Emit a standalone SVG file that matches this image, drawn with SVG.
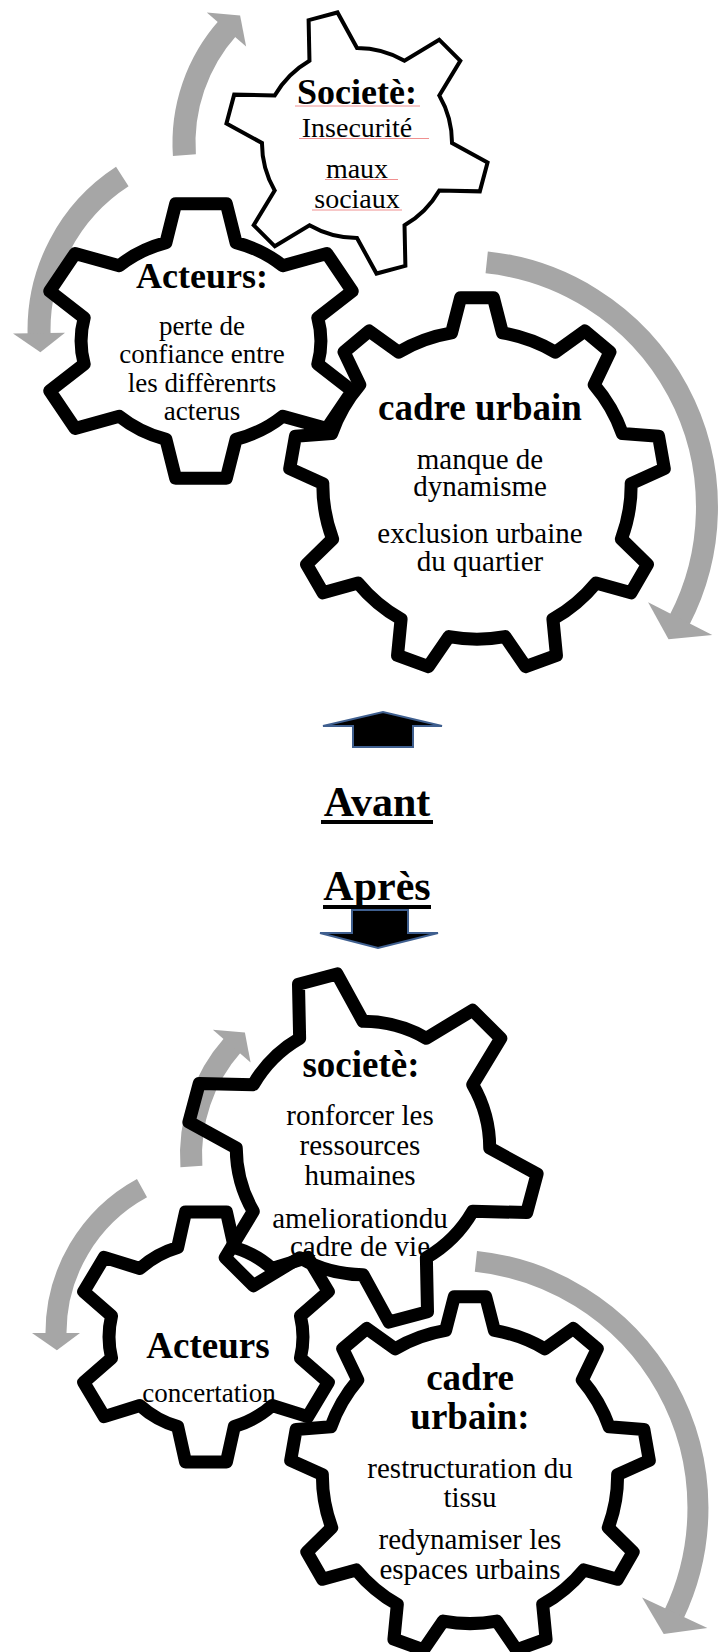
<svg xmlns="http://www.w3.org/2000/svg" width="723" height="1652" viewBox="0 0 723 1652">
<style>
.gear{fill:none;stroke:#000;stroke-linejoin:round}
.thin{stroke-width:4;stroke-linejoin:miter}
.thick{stroke-width:13}
.band{fill:none;stroke:#a6a6a6}
.head{fill:#a6a6a6}
.t{font-family:"Liberation Serif","Times New Roman",serif;font-weight:bold;text-anchor:middle;fill:#000}
.b{font-family:"Liberation Serif","Times New Roman",serif;text-anchor:middle;fill:#000}
.spell{stroke:#f09090;stroke-width:1}
.big{fill:#000;stroke:#3f5f8f;stroke-width:2}
</style>
<defs>
<path id="g6n" vector-effect="non-scaling-stroke" d="M -18.64 -69.55 L -11.32 -99.36 L 11.32 -99.36 L 18.64 -69.55 A 72 72 0 0 1 50.91 -50.91 L 80.39 -59.48 L 91.71 -39.87 L 69.55 -18.64 A 72 72 0 0 1 69.55 18.64 L 91.71 39.87 L 80.39 59.48 L 50.91 50.91 A 72 72 0 0 1 18.64 69.55 L 11.32 99.36 L -11.32 99.36 L -18.64 69.55 A 72 72 0 0 1 -50.91 50.91 L -80.39 59.48 L -91.71 39.87 L -69.55 18.64 A 72 72 0 0 1 -69.55 -18.64 L -91.71 -39.87 L -80.39 -59.48 L -50.91 -50.91 A 72 72 0 0 1 -18.64 -69.55 Z"/>
<path id="g6w" vector-effect="non-scaling-stroke" d="M -21.64 -70.77 L -15.64 -98.77 L 15.64 -98.77 L 21.64 -70.77 A 74 74 0 0 1 50.47 -54.12 L 77.71 -62.93 L 93.36 -35.84 L 72.11 -16.65 A 74 74 0 0 1 72.11 16.65 L 93.36 35.84 L 77.71 62.93 L 50.47 54.12 A 74 74 0 0 1 21.64 70.77 L 15.64 98.77 L -15.64 98.77 L -21.64 70.77 A 74 74 0 0 1 -50.47 54.12 L -77.71 62.93 L -93.36 35.84 L -72.11 16.65 A 74 74 0 0 1 -72.11 -16.65 L -93.36 -35.84 L -77.71 -62.93 L -50.47 -54.12 A 74 74 0 0 1 -21.64 -70.77 Z"/>
<path id="g9" vector-effect="non-scaling-stroke" d="M -13.53 -80.88 L -8.72 -99.62 L 8.72 -99.62 L 13.53 -80.88 A 82 82 0 0 1 41.62 -70.65 L 57.36 -81.92 L 70.71 -70.71 L 62.35 -53.25 A 82 82 0 0 1 77.29 -27.37 L 96.59 -25.88 L 99.62 -8.72 L 82 -0.72 A 82 82 0 0 1 76.81 28.72 L 90.63 42.26 L 81.92 57.36 L 63.27 52.16 A 82 82 0 0 1 40.38 71.37 L 42.26 90.63 L 25.88 96.59 L 14.94 80.63 A 82 82 0 0 1 -14.94 80.63 L -25.88 96.59 L -42.26 90.63 L -40.38 71.37 A 82 82 0 0 1 -63.27 52.16 L -81.92 57.36 L -90.63 42.26 L -76.81 28.72 A 82 82 0 0 1 -82 -0.72 L -99.62 -8.72 L -96.59 -25.88 L -77.29 -27.37 A 82 82 0 0 1 -62.35 -53.25 L -70.71 -70.71 L -57.36 -81.92 L -41.62 -70.65 A 82 82 0 0 1 -13.53 -80.88 Z"/>
</defs>
<rect x="0" y="0" width="723" height="1652" fill="#fff"/>
<g id="connectors">
<path class="band" stroke-width="23" d="M 184.4 155.1 A 173 173 0 0 1 228.4 27.2"/>
<polygon class="head" points="246.1,46.6 206.8,12.4 240.1,15.4"/>
<path class="band" stroke-width="23" d="M 122.3 176.5 A 183 183 0 0 0 39.1 334.8"/>
<polygon class="head" points="65,332.7 13,333.6 40.4,352.3"/>
<path class="band" stroke-width="22" d="M 486.7 262.4 A 246 246 0 0 1 679.2 620.6"/>
<polygon class="head" points="648.1,602.3 712.3,635 668.5,639.2"/>
<path class="band" stroke-width="22" d="M 191.4 1166.6 A 166 166 0 0 1 232.7 1045"/>
<polygon class="head" points="250.6,1062.5 212.9,1029.7 244.9,1032.6"/>
<path class="band" stroke-width="21" d="M 142 1188.1 A 165 165 0 0 0 56 1334.4"/>
<polygon class="head" points="80,1333 32,1333 56.9,1350.2"/>
<path class="band" stroke-width="21" d="M 475.9 1261.4 A 248 248 0 0 1 673.8 1614.8"/>
<polygon class="head" points="642.1,1597.6 707.4,1628 663.7,1633.9"/>
<polygon class="big" points="353,747 353,726 323,726 383,712 442,726 413,726 413,747"/>
<polygon class="big" points="352,910 408,910 408,933 438,933 378,948 320,933 352,933"/>
</g>
<g id="societe-avant">
<use href="#g6n" class="gear thin" transform="translate(357 143) rotate(-15) scale(1.32)"/>
<text class="t" x="357" y="104" font-size="36">Societè:</text>
<text class="b" x="357" y="137" font-size="28">Insecurité</text>
<text class="b" x="357" y="178" font-size="28">maux</text>
<text class="b" x="357" y="208" font-size="28">sociaux</text>
<line class="spell" x1="295" y1="106" x2="420" y2="106"/>
<line class="spell" x1="299" y1="138.5" x2="429" y2="138.5"/>
<line class="spell" x1="325" y1="179.5" x2="398" y2="179.5"/>
<line class="spell" x1="312" y1="210" x2="402" y2="210"/>
</g>
<g id="acteurs-avant">
<use href="#g6w" class="gear thick" transform="translate(201 341) scale(1.62 1.39)"/>
<text class="t" x="202" y="288" font-size="36">Acteurs:</text>
<text class="b" x="202" y="335" font-size="27">perte de</text>
<text class="b" x="202" y="363" font-size="27">confiance entre</text>
<text class="b" x="202" y="392" font-size="27">les diffèrenrts</text>
<text class="b" x="202" y="420" font-size="27">acterus</text>
</g>
<g id="cadre-avant">
<use href="#g9" class="gear thick" transform="translate(477 485) scale(1.88)"/>
<text class="t" x="480" y="420" font-size="37">cadre urbain</text>
<text class="b" x="480" y="469" font-size="29">manque de</text>
<text class="b" x="480" y="496" font-size="29">dynamisme</text>
<text class="b" x="480" y="543" font-size="29">exclusion urbaine</text>
<text class="b" x="480" y="571" font-size="29">du quartier</text>
</g>
<g id="avant-label">
<text class="t" x="377" y="816" font-size="42">Avant</text>
<rect x="321" y="820" width="112" height="4" fill="#000"/>
</g>
<g id="apres-label">
<text class="t" x="377" y="900" font-size="42">Après</text>
<rect x="323" y="905" width="108" height="4" fill="#000"/>
</g>
<g id="societe-apres">
<use href="#g6n" class="gear thick" transform="translate(363 1148) rotate(-15) scale(1.76)"/>
<text class="t" x="361" y="1077" font-size="37">societè:</text>
<text class="b" x="360" y="1125" font-size="29">ronforcer les</text>
<text class="b" x="360" y="1155" font-size="29">ressources</text>
<text class="b" x="360" y="1185" font-size="29">humaines</text>
<text class="b" x="360" y="1228" font-size="29">ameliorationdu</text>
<text class="b" x="360" y="1256" font-size="29">cadre de vie</text>
</g>
<g id="acteurs-apres">
<use href="#g6w" class="gear thick" transform="translate(206 1337) scale(1.31 1.265)"/>
<text class="t" x="208" y="1358" font-size="37">Acteurs</text>
<text class="b" x="209" y="1402" font-size="27">concertation</text>
</g>
<g id="cadre-apres">
<use href="#g9" class="gear thick" transform="translate(470 1476) scale(1.8)"/>
<text class="t" x="470" y="1390" font-size="37">cadre</text>
<text class="t" x="470" y="1429" font-size="37">urbain:</text>
<text class="b" x="470" y="1478" font-size="29">restructuration du</text>
<text class="b" x="470" y="1507" font-size="29">tissu</text>
<text class="b" x="470" y="1549" font-size="29">redynamiser les</text>
<text class="b" x="470" y="1579" font-size="29">espaces urbains</text>
</g>
</svg>
